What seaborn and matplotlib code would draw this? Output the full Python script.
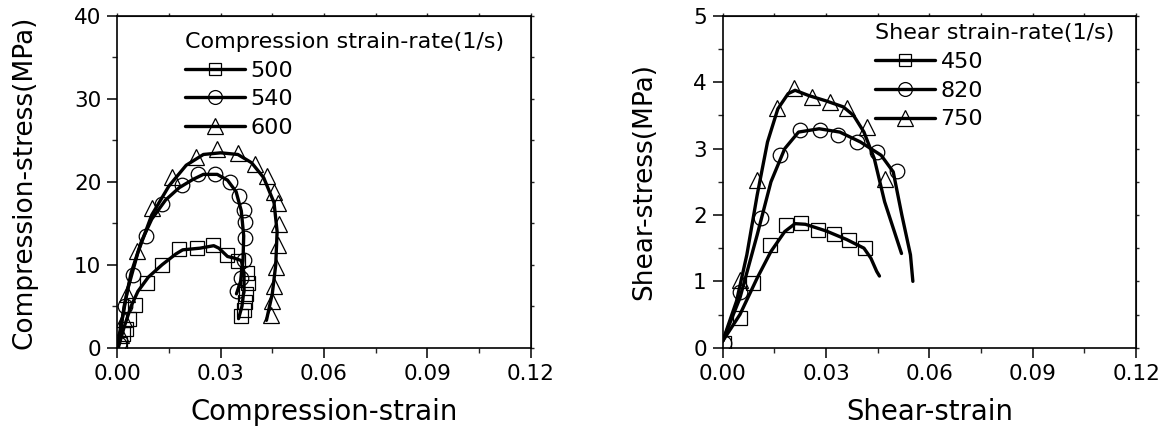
import numpy as np
import pandas as pd
import matplotlib
matplotlib.use("Agg")
import matplotlib.pyplot as plt
from matplotlib.lines import Line2D
from matplotlib.ticker import MultipleLocator, FormatStrFormatter
import seaborn as sns

# ---- compression test: measured points (markers) ----
c500_x = [0.0008, 0.0017, 0.0025, 0.0035, 0.005, 0.0085, 0.0129, 0.018, 0.023, 0.0277,
          0.0318, 0.035, 0.0377, 0.038, 0.0375, 0.037, 0.0367, 0.036]
c500_y = [0.5, 1.7, 2.3, 3.5, 5.1, 7.8, 10.0, 11.9, 12.0, 12.4,
          11.2, 10.5, 9.0, 7.8, 6.5, 5.5, 4.6, 3.8]
c540_x = [0.0005, 0.0022, 0.0045, 0.0083, 0.0131, 0.0187, 0.0233, 0.0284, 0.0326, 0.0354,
          0.0368, 0.0372, 0.037, 0.0367, 0.036, 0.0348]
c540_y = [0.4, 5.0, 8.8, 13.5, 17.3, 19.6, 21.0, 20.9, 20.0, 18.3,
          16.6, 15.1, 13.2, 10.6, 8.4, 6.8]
c600_x = [0.001, 0.0019, 0.0027, 0.0056, 0.010, 0.0158, 0.0228, 0.0289, 0.035, 0.040,
          0.0435, 0.0456, 0.0467, 0.047, 0.0467, 0.0462, 0.0456, 0.045, 0.0445]
c600_y = [1.5, 3.4, 6.5, 11.6, 16.8, 20.6, 23.0, 23.9, 23.5, 22.2,
          20.7, 18.8, 17.4, 14.9, 12.4, 9.7, 7.4, 5.6, 3.9]

# ---- compression test: fitted curves ----
c500_fx = [0.0003, 0.002, 0.004, 0.006, 0.009, 0.013, 0.017, 0.019, 0.024, 0.028,
           0.0295, 0.032, 0.034, 0.036, 0.0368, 0.0368, 0.0362, 0.0352]
c500_fy = [0.0, 2.5, 5.0, 6.8, 8.5, 10.0, 11.3, 11.8, 12.0, 12.3,
           12.0, 11.0, 10.8, 10.5, 9.0, 7.0, 5.0, 3.5]
c540_fx = [0.0002, 0.002, 0.004, 0.007, 0.010, 0.014, 0.018, 0.022, 0.025, 0.029,
           0.032, 0.0345, 0.036, 0.0367, 0.0365, 0.0358, 0.0346]
c540_fy = [0.0, 5.0, 9.0, 12.8, 15.5, 17.8, 19.3, 20.3, 20.9, 20.9,
           20.2, 18.8, 16.5, 13.5, 10.5, 8.0, 6.5]
c600_fx = [0.0, 0.001, 0.003, 0.006, 0.010, 0.015, 0.020, 0.025, 0.030, 0.035,
           0.039, 0.0425, 0.0455, 0.0464, 0.046, 0.045, 0.0433]
c600_fy = [0.0, 2.5, 7.0, 11.5, 16.0, 19.5, 22.0, 23.3, 23.5, 23.3,
           22.3, 20.5, 17.5, 14.0, 10.0, 6.5, 3.3]

# ---- shear test: measured points ----
s450_x = [0.0005, 0.0049, 0.0089, 0.0136, 0.0184, 0.0228, 0.0277, 0.0323, 0.0368, 0.0413]
s450_y = [0.07, 0.44, 0.97, 1.55, 1.85, 1.88, 1.78, 1.72, 1.62, 1.50]
s820_x = [0.0005, 0.0051, 0.0111, 0.0167, 0.0225, 0.0282, 0.0334, 0.039, 0.0448, 0.0505]
s820_y = [0.07, 0.84, 1.96, 2.91, 3.28, 3.28, 3.20, 3.10, 2.95, 2.67]
s750_x = [0.0049, 0.010, 0.0158, 0.0207, 0.0258, 0.031, 0.0361, 0.0418, 0.047]
s750_y = [1.02, 2.53, 3.61, 3.91, 3.78, 3.71, 3.61, 3.32, 2.55]

# ---- shear test: fitted curves ----
s450_fx = [0.0, 0.005, 0.010, 0.014, 0.018, 0.021, 0.024, 0.030, 0.036, 0.041,
           0.043, 0.0447, 0.0455]
s450_fy = [0.1, 0.5, 1.05, 1.45, 1.75, 1.87, 1.86, 1.76, 1.63, 1.50,
           1.35, 1.15, 1.08]
s820_fx = [0.0, 0.005, 0.010, 0.014, 0.018, 0.022, 0.028, 0.034, 0.040, 0.046,
           0.0495, 0.052, 0.0545, 0.0552]
s820_fy = [0.1, 0.75, 1.7, 2.5, 3.0, 3.25, 3.3, 3.25, 3.1, 2.9,
           2.65, 2.0, 1.4, 1.0]
s750_fx = [0.0, 0.004, 0.007, 0.010, 0.013, 0.016, 0.019, 0.021, 0.025, 0.030,
           0.035, 0.038, 0.041, 0.044, 0.047, 0.0519]
s750_fy = [0.1, 0.7, 1.4, 2.3, 3.1, 3.6, 3.83, 3.88, 3.80, 3.72,
           3.63, 3.50, 3.25, 2.85, 2.2, 1.42]

comp_labels = ["500", "540", "600"]
shear_labels = ["450", "820", "750"]
markers = ["s", "o", "^"]
msizes = [9.5, 10.5, 12]

sns.set_style("ticks")
plt.rcParams["font.family"] = ["DejaVu Sans"]
plt.rcParams["text.color"] = "black"
plt.rcParams["axes.labelcolor"] = "black"

fig = plt.figure(figsize=(11.67, 4.38), dpi=100)
ax1 = fig.add_axes([0.1005, 0.2062, 0.3542, 0.7573])
ax2 = fig.add_axes([0.6193, 0.2062, 0.3542, 0.7573])


def draw(ax, pts, fits):
    for (px, py), (fx, fy), m, ms in zip(pts, fits, markers, msizes):
        sns.lineplot(x=px, y=py, ax=ax, sort=False, estimator=None, ls="",
                     marker=m, ms=ms, mfc="none", mec="black", mew=0.9, color="black")
        sns.lineplot(x=fx, y=fy, ax=ax, sort=False, estimator=None,
                     color="black", lw=2.4)
    handles = [Line2D([], [], color="black", lw=2.4, marker=m, ms=ms * 0.95,
                      mfc="none", mec="black", mew=0.9)
               for m, ms in zip(markers, msizes)]
    return handles


h1 = draw(ax1, [(c500_x, c500_y), (c540_x, c540_y), (c600_x, c600_y)],
          [(c500_fx, c500_fy), (c540_fx, c540_fy), (c600_fx, c600_fy)])
h2 = draw(ax2, [(s450_x, s450_y), (s820_x, s820_y), (s750_x, s750_y)],
          [(s450_fx, s450_fy), (s820_fx, s820_fy), (s750_fx, s750_fy)])

for ax, ymax, ymaj, ymin in [(ax1, 40, 10, 5), (ax2, 5, 1, 0.5)]:
    ax.set_xlim(0, 0.12)
    ax.set_ylim(0, ymax)
    ax.xaxis.set_major_locator(MultipleLocator(0.03))
    ax.xaxis.set_minor_locator(MultipleLocator(0.015))
    ax.xaxis.set_major_formatter(FormatStrFormatter("%.2f"))
    ax.yaxis.set_major_locator(MultipleLocator(ymaj))
    ax.yaxis.set_minor_locator(MultipleLocator(ymin))
    ax.yaxis.set_major_formatter(FormatStrFormatter("%g"))
    for s in ax.spines.values():
        s.set_visible(True)
        s.set_linewidth(1.2)
        s.set_color("black")
    ax.tick_params(which="major", direction="out", length=7, width=1.1,
                   labelsize=15.5, pad=4.5, colors="black")
    ax.tick_params(which="minor", direction="out", length=3.5, width=1.0)
    # short ticks on the top and right frame
    top = ax.secondary_xaxis("top")
    top.xaxis.set_major_locator(MultipleLocator(0.03))
    top.xaxis.set_minor_locator(MultipleLocator(0.015))
    top.tick_params(which="both", direction="out", length=2, width=1.0, labeltop=False)
    right = ax.secondary_yaxis("right")
    right.yaxis.set_major_locator(MultipleLocator(ymaj))
    right.yaxis.set_minor_locator(MultipleLocator(ymin))
    right.tick_params(which="both", direction="out", length=2, width=1.0, labelright=False)

ax1.set_xlabel("Compression-strain", fontsize=19.8, labelpad=10)
ax1.set_ylabel("Compression-stress(MPa)", fontsize=19, labelpad=26)
ax2.set_xlabel("Shear-strain", fontsize=19.8, labelpad=10)
ax2.set_ylabel("Shear-stress(MPa)", fontsize=19, labelpad=26)

leg_kw = dict(loc="upper left", frameon=False, fontsize=16, title_fontsize=16,
              handlelength=2.7, handletextpad=0.25, labelspacing=0.39,
              borderaxespad=0, borderpad=0, alignment="left")
ax1.legend(h1, comp_labels, title="Compression strain-rate(1/s)",
           bbox_to_anchor=(0.164, 0.952), **leg_kw)
ax2.legend(h2, shear_labels, title="Shear strain-rate(1/s)",
           bbox_to_anchor=(0.3685, 0.978), **leg_kw)

fig.savefig("out.png", dpi=100)
